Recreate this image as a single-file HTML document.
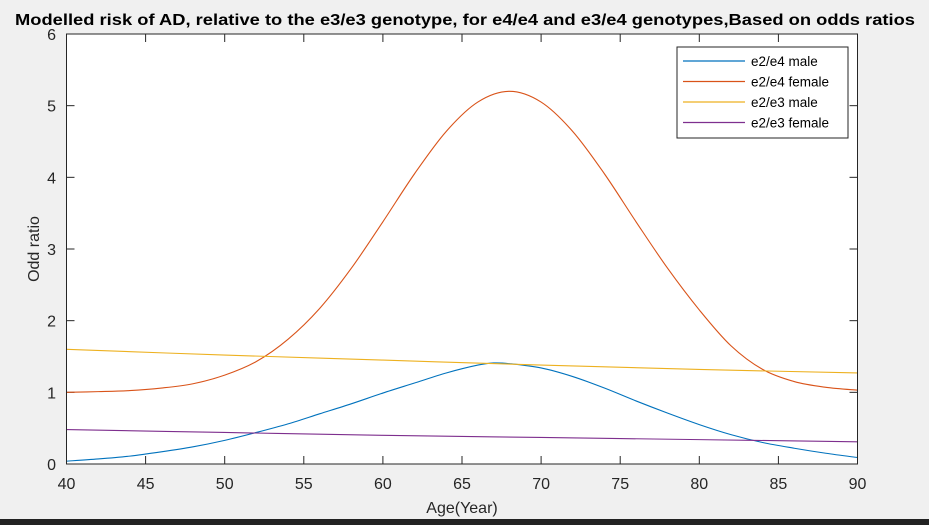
<!DOCTYPE html>
<html><head><meta charset="utf-8"><style>
body{margin:0;background:#f0f0f0;}
svg{display:block;font-family:"Liberation Sans",Arial,sans-serif;}
</style></head><body>
<svg id="chart" width="929" height="525">
<rect x="0" y="0" width="929" height="525" fill="#f0f0f0"/>
<rect x="0" y="519" width="929" height="6" fill="#222"/>
<text x="465" y="25" text-anchor="middle" font-size="15.5" font-weight="bold" textLength="900" lengthAdjust="spacingAndGlyphs">Modelled risk of AD, relative to the e3/e3 genotype, for e4/e4 and e3/e4 genotypes,Based on odds ratios</text>
<rect x="66.5" y="34" width="791" height="430" fill="#fff"/>
<g id="ticks"></g>
<g id="series"></g>
<rect x="66.5" y="34" width="791" height="430" fill="none" stroke="#262626" stroke-width="1"/>
<text x="462" y="513" text-anchor="middle" font-size="16" fill="#262626">Age(Year)</text>
<text transform="translate(39,249) rotate(-90)" text-anchor="middle" font-size="16" fill="#262626">Odd ratio</text>
<g>
<rect x="677" y="47" width="171" height="91" fill="#fff" stroke="#262626" stroke-width="1"/>
<g id="legend"></g>
</g>
</svg>
<script>
const xTicks=[40,45,50,55,60,65,70,75,80,85,90];
const yTicks=[0,1,2,3,4,5,6];
const seriesNames=["e2/e4 male","e2/e4 female","e2/e3 male","e2/e3 female"];
const seriesColors=["#0072BD","#D95319","#EDB120","#7E2F8E"];
const agesBlue=[40,42,44,46,48,50,52,54,56,58,60,62,64,66,67,68,70,72,74,76,78,80,82,84,86,88,90];
const valsBlue=[0.04,0.07,0.11,0.17,0.24,0.33,0.44,0.56,0.70,0.84,0.99,1.13,1.27,1.38,1.41,1.40,1.34,1.22,1.06,0.88,0.71,0.55,0.41,0.30,0.22,0.15,0.09];
const agesOrange=[40,42,44,46,48,50,52,54,56,58,60,62,64,66,68,70,72,74,76,78,80,82,84,86,88,90];
const valsOrange=[1.00,1.01,1.025,1.06,1.12,1.24,1.43,1.74,2.17,2.73,3.38,4.05,4.64,5.05,5.20,5.05,4.64,4.05,3.38,2.73,2.15,1.65,1.32,1.15,1.07,1.03];
const agesYellow=[40,50,60,70,80,90];
const valsYellow=[1.60,1.52,1.45,1.38,1.32,1.27];
const agesPurple=[40,50,60,70,80,90];
const valsPurple=[0.48,0.44,0.40,0.37,0.34,0.31];
const NS="http://www.w3.org/2000/svg";
const X0=66.5,X1=857.5,Y0=464,Y1=34;
const sx=v=>X0+(v-40)/(90-40)*(X1-X0);
const sy=v=>Y0-(v-0)/(6-0)*(Y0-Y1);
function mk(t,a){const e=document.createElementNS(NS,t);for(const k in a)e.setAttribute(k,a[k]);return e;}
const tg=document.getElementById('ticks');
xTicks.forEach(t=>{
  const x=sx(t);
  const l1=mk('line',{x1:x,x2:x,y1:Y0,y2:Y0-8,stroke:'#262626'});
  
  
  tg.appendChild(l1);
  const l2=mk('line',{x1:x,x2:x,y1:Y1,y2:Y1+8,stroke:'#262626'});
  
  
  tg.appendChild(l2);
  const tx=mk('text',{x:x,y:489,'text-anchor':'middle','font-size':16,fill:'#262626'});
  tx.textContent=t;
  
  
  tg.appendChild(tx);
});
yTicks.forEach(t=>{
  const y=sy(t);
  const l1=mk('line',{x1:X0,x2:X0+8,y1:y,y2:y,stroke:'#262626'});
  
  
  tg.appendChild(l1);
  const l2=mk('line',{x1:X1,x2:X1-8,y1:y,y2:y,stroke:'#262626'});
  
  
  tg.appendChild(l2);
  const tx=mk('text',{x:56,y:y+6,'text-anchor':'end','font-size':16,fill:'#262626'});
  tx.textContent=t;
  
  
  tg.appendChild(tx);
});
const sg=document.getElementById('series');
const data=[[agesBlue,valsBlue],[agesOrange,valsOrange],[agesYellow,valsYellow],[agesPurple,valsPurple]];
const lineNames=['line-e2e4-male','line-e2e4-female','line-e2e3-male','line-e2e3-female'];
function pathFor(xs,ys){
  const p=xs.map((x,i)=>[sx(x),sy(ys[i])]);
  let d='M'+p[0][0]+','+p[0][1];
  for(let i=0;i<p.length-1;i++){
    const p0=p[Math.max(0,i-1)],p1=p[i],p2=p[i+1],p3=p[Math.min(p.length-1,i+2)];
    const c1=[p1[0]+(p2[0]-p0[0])/6,p1[1]+(p2[1]-p0[1])/6];
    const c2=[p2[0]-(p3[0]-p1[0])/6,p2[1]-(p3[1]-p1[1])/6];
    d+=' C'+c1+' '+c2+' '+p2;
  }
  return d;
}
data.forEach((s,i)=>{
  const pa=mk('path',{d:pathFor(s[0],s[1]),fill:'none',stroke:seriesColors[i],'stroke-width':1.1});
  
  
  sg.appendChild(pa);
});
const lg=document.getElementById('legend');
seriesNames.forEach((n,i)=>{
  const y=61+i*20.5;
  const l=mk('line',{x1:683,x2:745,y1:y,y2:y,stroke:seriesColors[i],'stroke-width':1.2});
  
  
  lg.appendChild(l);
  const t=mk('text',{x:751,y:y+5,'font-size':13.5,fill:'#000'});
  t.textContent=n;
  
  
  lg.appendChild(t);
});
</script>
</body></html>
